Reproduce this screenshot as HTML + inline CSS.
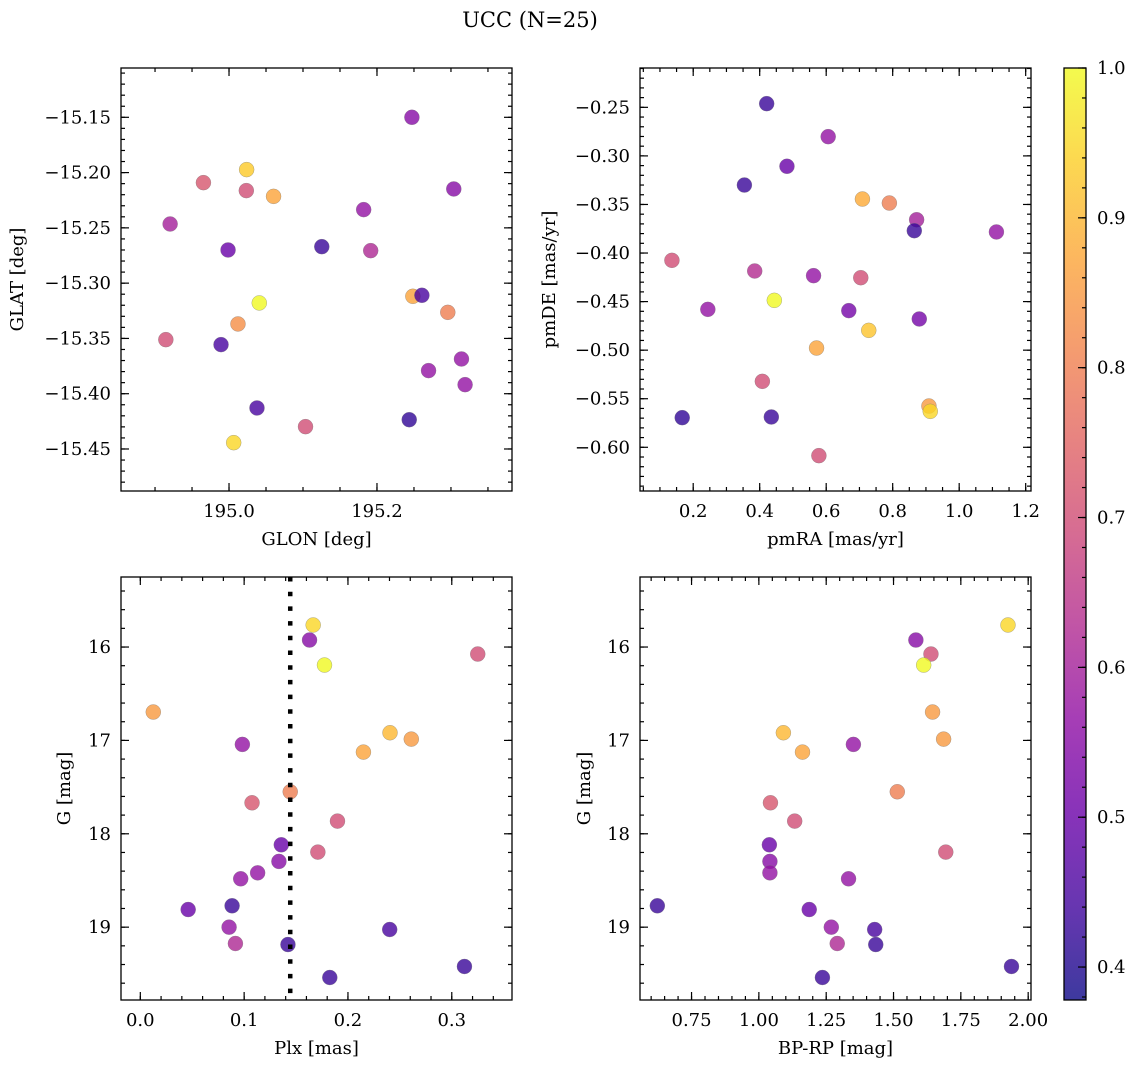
<!DOCTYPE html>
<html><head><meta charset="utf-8"><style>
html,body{margin:0;padding:0;background:#fff;}
svg{display:block;font-family:"DejaVu Serif","Liberation Serif",serif;}
</style></head><body>
<svg id="fig" width="1136" height="1068" viewBox="0 0 1136 1068">
<text x="530" y="27" font-size="21" text-anchor="middle">UCC (N=25)</text>
</svg>
<script>
// ---- data ----
const glon = [195.2472,195.0238,194.9654,195.0234,195.0602,195.3038,195.1820,194.9204,194.9987,195.1254,195.1915,195.0409,195.2485,195.2607,195.2957,195.0121,194.9146,194.9892,195.3142,195.2697,195.3191,195.0378,195.1034,195.2436,195.0063];
const glat = [-15.150,-15.1973,-15.2091,-15.2163,-15.2215,-15.2148,-15.2335,-15.2465,-15.2700,-15.2670,-15.2706,-15.3179,-15.3119,-15.3110,-15.3264,-15.3369,-15.3511,-15.3556,-15.3686,-15.3791,-15.3918,-15.4129,-15.4298,-15.4235,-15.4443];
const probPos = [0.55,0.93,0.72,0.70,0.87,0.55,0.57,0.60,0.50,0.43,0.62,1.00,0.87,0.45,0.80,0.83,0.70,0.45,0.57,0.57,0.57,0.45,0.70,0.42,0.95];

const pmra = [0.421,0.606,0.482,0.354,0.709,0.790,0.872,0.865,1.112,0.136,0.385,0.562,0.704,0.444,0.244,0.668,0.880,0.728,0.571,0.408,0.167,0.435,0.909,0.913,0.578];
const pmde = [-0.2462,-0.2802,-0.3107,-0.3300,-0.3444,-0.3485,-0.3657,-0.3770,-0.3783,-0.4075,-0.4185,-0.4233,-0.4254,-0.4487,-0.4580,-0.4593,-0.4679,-0.4796,-0.4978,-0.5321,-0.5695,-0.5688,-0.5575,-0.5630,-0.6086];
const probPM = [0.43,0.57,0.50,0.43,0.88,0.80,0.60,0.43,0.57,0.70,0.63,0.57,0.70,1.00,0.57,0.52,0.52,0.92,0.87,0.70,0.42,0.43,0.85,0.95,0.70];

const plx  = [0.1665,0.1630,0.3250,0.1774,0.0125,0.2405,0.2610,0.0983,0.2149,0.1444,0.1076,0.1899,0.1710,0.1358,0.1335,0.1130,0.0967,0.0461,0.0884,0.0855,0.2402,0.0916,0.1422,0.3122,0.1825];
const gmag = [15.764,15.925,16.075,16.193,16.696,16.918,16.986,17.043,17.125,17.55,17.668,17.864,18.196,18.118,18.296,18.418,18.482,18.811,18.771,19.0,19.025,19.175,19.186,19.421,19.539];
const bprp = [1.925,1.583,1.639,1.612,1.645,1.091,1.686,1.351,1.162,1.514,1.043,1.133,1.694,1.039,1.041,1.041,1.333,1.187,0.623,1.269,1.430,1.291,1.434,1.938,1.236];
const probCMD = [0.95,0.55,0.70,1.00,0.85,0.90,0.85,0.57,0.87,0.80,0.72,0.70,0.70,0.50,0.55,0.57,0.57,0.50,0.43,0.57,0.45,0.62,0.43,0.43,0.43];
const plxLine = [0.1444];

const ticksGlon = [195.0,195.2], ticksGlat = [-15.15,-15.20,-15.25,-15.30,-15.35,-15.40,-15.45];
const ticksPmra = [0.2,0.4,0.6,0.8,1.0,1.2], ticksPmde = [-0.25,-0.30,-0.35,-0.40,-0.45,-0.50,-0.55,-0.60];
const ticksPlx = [0.0,0.1,0.2,0.3], ticksG = [16,17,18,19];
const ticksBprp = [0.75,1.00,1.25,1.50,1.75,2.00], ticksCbar = [0.4,0.5,0.6,0.7,0.8,0.9,1.0];

// ---- helpers ----
const NS = "http://www.w3.org/2000/svg";
const svg = document.getElementById('fig');
function mk(tag, attrs, parent){ const e=document.createElementNS(NS,tag); for(const k in attrs) e.setAttribute(k,attrs[k]); (parent||svg).appendChild(e); return e; }
const plasma = [[13,8,135],[65,4,157],[106,0,168],[143,13,164],[177,42,144],[204,71,120],[225,100,98],[242,132,75],[252,166,54],[252,206,37],[240,249,33]];
const VMIN=0.378, VMAX=1.0;
function cmap(v){ let t=(v-VMIN)/(VMAX-VMIN); t=Math.max(0,Math.min(1,t)); const f=t*10, i=Math.min(9,Math.floor(f)), r=f-i;
  const a=plasma[i], b=plasma[i+1]; return 'rgb('+a.map((c,k)=>Math.round(c+(b[k]-c)*r)).join(',')+')'; }
function fmt(v,d){ return (v<0?'\u2212':'')+Math.abs(v).toFixed(d); }

function panel(opt){
  const {x0,y0,x1,y1,xlim,ylim,name} = opt;
  const sx = v => x0 + (v-xlim[0])/(xlim[1]-xlim[0])*(x1-x0);
  const sy = v => y1 - (v-ylim[0])/(ylim[1]-ylim[0])*(y1-y0);
  const g = mk('g',{});
  
  
  const tg = mk('g',{stroke:'#000','stroke-width':1.2},g);
  function range(lo,hi,step){ const out=[]; const s=Math.ceil(lo/step-1e-9); for(let k=s;k*step<=hi+1e-9;k++) out.push(+(k*step).toFixed(6)); return out; }
  const xl=Math.min(...xlim), xh=Math.max(...xlim), yl=Math.min(...ylim), yh=Math.max(...ylim);
  range(xl,xh,opt.xminor).forEach(v=>{ const X=sx(v); mk('line',{x1:X,x2:X,y1:y1,y2:y1-4},tg); mk('line',{x1:X,x2:X,y1:y0,y2:y0+4},tg); });
  range(yl,yh,opt.yminor).forEach(v=>{ const Y=sy(v); mk('line',{x1:x0,x2:x0+4,y1:Y,y2:Y},tg); mk('line',{x1:x1,x2:x1-4,y1:Y,y2:Y},tg); });
  opt.xt.forEach(v=>{ const X=sx(v); mk('line',{x1:X,x2:X,y1:y1,y2:y1-8},tg); mk('line',{x1:X,x2:X,y1:y0,y2:y0+8},tg);
    const t=mk('text',{x:X,y:y1+26,'font-size':18,'text-anchor':'middle'},g); t.textContent=fmt(v,opt.xd);
    
     });
  opt.yt.forEach(v=>{ const Y=sy(v); mk('line',{x1:x0,x2:x0+8,y1:Y,y2:Y},tg); mk('line',{x1:x1,x2:x1-8,y1:Y,y2:Y},tg);
    const t=mk('text',{x:x0-10,y:Y+6,'font-size':18,'text-anchor':'end'},g); t.textContent=fmt(v,opt.yd);
    
     });
  opt.xs.forEach((v,i)=>{ const c=mk('circle',{cx:sx(v),cy:sy(opt.ys[i]),r:7.5,fill:cmap(opt.ps[i]),'fill-opacity':0.8,stroke:'#777','stroke-width':0.5,'stroke-opacity':0.6},g);
    
     });
  if(opt.vline){ opt.vline.forEach(v=>{ const l=mk('line',{x1:sx(v),x2:sx(v),y1:y0,y2:y1,stroke:'#000','stroke-width':4.5,'stroke-dasharray':'4.5 10.2'},g);
    
     }); }
  const fr=mk('rect',{x:x0,y:y0,width:x1-x0,height:y1-y0,fill:'none',stroke:'#000','stroke-width':1.3},g);
  
  
  const xlab=mk('text',{x:(x0+x1)/2,y:y1+54,'font-size':18,'text-anchor':'middle'},g); xlab.textContent=opt.xlabel;
  
  
  const ylab=mk('text',{x:opt.ylx,y:(y0+y1)/2,'font-size':18,'text-anchor':'middle',transform:'rotate(-90 '+opt.ylx+' '+((y0+y1)/2)+')'},g); ylab.textContent=opt.ylabel;
  
  
}

panel({name:'position',x0:121,y0:68,x1:512,y1:491,xlim:[194.854,195.3825],ylim:[-15.488,-15.1054],xt:ticksGlon,yt:ticksGlat,xd:1,yd:2,xminor:0.05,yminor:0.01,xs:glon,ys:glat,ps:probPos,xlabel:'GLON [deg]',ylabel:'GLAT [deg]',ylx:23});
panel({name:'proper-motion',x0:640,y0:68,x1:1031,y1:491,xlim:[0.04,1.216],ylim:[-0.645,-0.2095],xt:ticksPmra,yt:ticksPmde,xd:1,yd:2,xminor:0.05,yminor:0.01,xs:pmra,ys:pmde,ps:probPM,xlabel:'pmRA [mas/yr]',ylabel:'pmDE [mas/yr]',ylx:555});
panel({name:'parallax',x0:121,y0:577,x1:512,y1:1000,xlim:[-0.0186,0.358],ylim:[19.78,15.25],xt:ticksPlx,yt:ticksG,xd:1,yd:0,xminor:0.02,yminor:0.2,xs:plx,ys:gmag,ps:probCMD,xlabel:'Plx [mas]',ylabel:'G [mag]',ylx:70,vline:plxLine});
panel({name:'cmd',x0:640,y0:577,x1:1031,y1:1000,xlim:[0.5586,2.0105],ylim:[19.78,15.25],xt:ticksBprp,yt:ticksG,xd:2,yd:0,xminor:0.05,yminor:0.2,xs:bprp,ys:gmag,ps:probCMD,xlabel:'BP-RP [mag]',ylabel:'G [mag]',ylx:590});

// ---- colorbar ----
(function(){
  const x0=1064,x1=1086,y0=68,y1=1000;
  const defs=mk('defs',{}); const lg=mk('linearGradient',{id:'cbg',x1:0,y1:1,x2:0,y2:0},defs);
  for(let k=0;k<=20;k++){ const v=VMIN+(VMAX-VMIN)*k/20; mk('stop',{offset:(k/20),'stop-color':cmap(v),'stop-opacity':0.8},lg); }
  const g=mk('g',{});
  
  
  mk('rect',{x:x0,y:y0,width:x1-x0,height:y1-y0,fill:'url(#cbg)'},g);
  const sy=v=>y1-(v-VMIN)/(VMAX-VMIN)*(y1-y0);
  for(let k=Math.ceil(VMIN*50);k<=50;k++){ const Y=sy(k/50); mk('line',{x1:x1,x2:x1-4,y1:Y,y2:Y,stroke:'#000','stroke-width':1.2},g); }
  ticksCbar.forEach(v=>{ const Y=sy(v); mk('line',{x1:x1,x2:x1-8,y1:Y,y2:Y,stroke:'#000','stroke-width':1.2},g);
    const t=mk('text',{x:x1+11,y:Y+6,'font-size':18},g); t.textContent=v.toFixed(1);
    
     });
  mk('rect',{x:x0,y:y0,width:x1-x0,height:y1-y0,fill:'none',stroke:'#000','stroke-width':1.3},g);
})();
</script>
</body></html>
